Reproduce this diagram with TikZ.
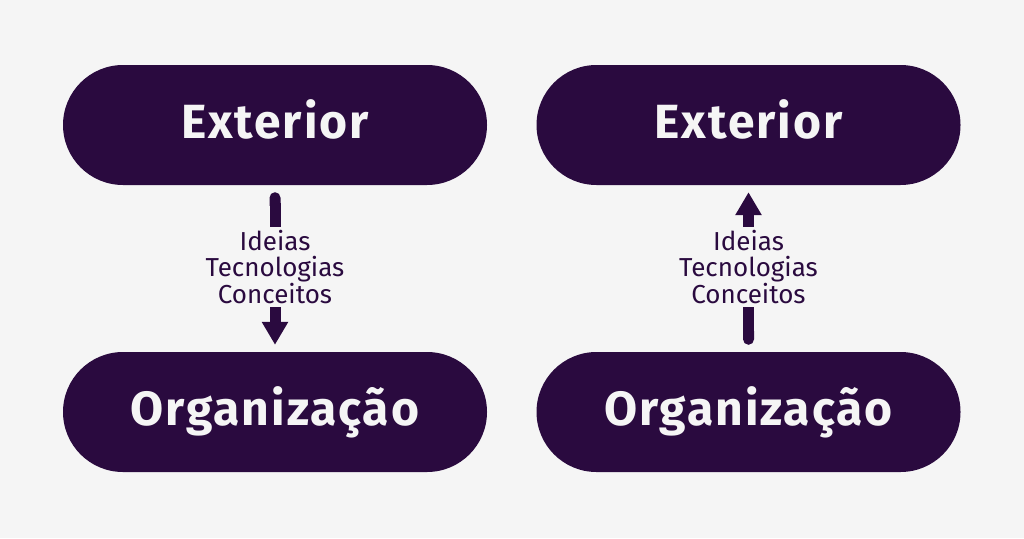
\documentclass[tikz,border=0pt]{standalone}
\usepackage{fontspec}
\setmainfont{Fira Sans}
\newfontfamily\pillfont{Fira Sans}[LetterSpace=4]
\usetikzlibrary{arrows.meta}
\definecolor{bgc}{HTML}{F5F5F5}
\definecolor{plum}{HTML}{2A0A3F}
\begin{document}
\begin{tikzpicture}[x=1pt,y=-1pt,
 pill/.style={fill=plum, text=bgc, minimum width=424pt, minimum height=120pt,
   rounded corners=60pt, inner sep=0pt,
   font=\pillfont\bfseries\fontsize{48}{50}\selectfont, text height=36pt, text depth=10pt},
 lbl/.style={text=plum, align=center, font=\fontsize{26}{25.5}\selectfont,
   inner sep=0pt, minimum height=80pt},
 shaft/.style={draw=plum, line width=11pt},
 headtip/.style={-{Triangle[width=25pt,length=23pt]}},
 roundstart/.style={{Round Cap[]}-},
]
\fill[bgc] (0,0) rectangle (1024,538);
\useasboundingbox (0,0) rectangle (1024,538);

% left column
\node[pill] (ext1) at (275,125) {Exterior};
\node[pill] (org1) at (275,412) {Organização};
\node[lbl] (lab1) at (275,267) {Ideias\\Tecnologias\\Conceitos};
\draw[shaft, roundstart, shorten <=7pt] (ext1.south) -- (lab1.north);
\draw[shaft, headtip, shorten >=7pt] (lab1.south) -- (org1.north);

% right column
\node[pill] (ext2) at (748.5,125) {Exterior};
\node[pill] (org2) at (748.5,412) {Organização};
\node[lbl] (lab2) at (748.5,267) {Ideias\\Tecnologias\\Conceitos};
\draw[shaft, roundstart, shorten <=7pt] (org2.north) -- (lab2.south);
\draw[shaft, headtip, shorten >=7pt] (lab2.north) -- (ext2.south);
\end{tikzpicture}
\end{document}
